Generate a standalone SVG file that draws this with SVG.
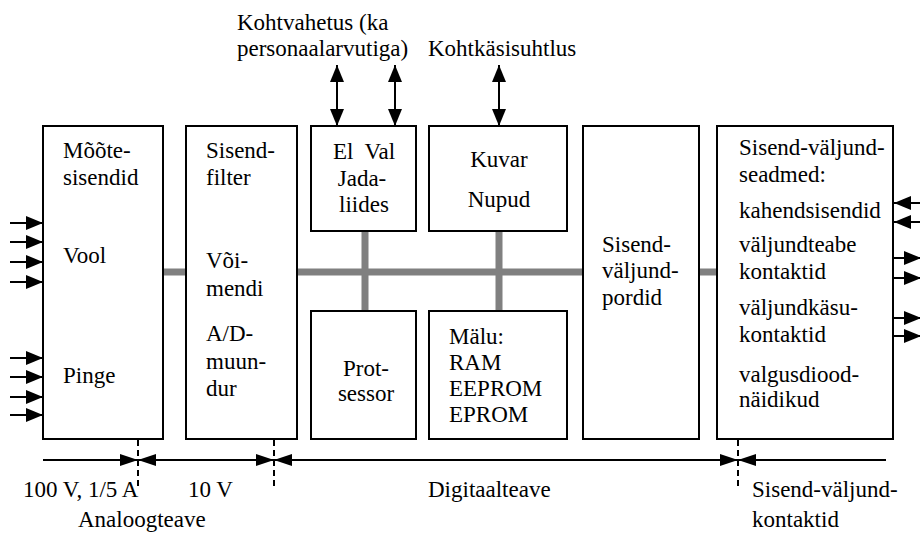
<svg xmlns="http://www.w3.org/2000/svg" width="920" height="534" viewBox="0 0 920 534">
<defs>
<marker id="ah" viewBox="0 0 17 14" refX="17" refY="7" markerWidth="17" markerHeight="14" markerUnits="userSpaceOnUse" orient="auto-start-reverse">
<path d="M0,0 L17,7 L0,14 Z" fill="#000"/>
</marker>
<marker id="ahb" viewBox="0 0 18 12" refX="18" refY="6" markerWidth="18" markerHeight="12" markerUnits="userSpaceOnUse" orient="auto-start-reverse">
<path d="M0,0 L18,6 L0,12 Z" fill="#000"/>
</marker>
</defs>
<style>
text{font-family:"Liberation Serif",serif;font-size:23px;fill:#000}
.box{fill:#fff;stroke:#000;stroke-width:2}
.bus{stroke:#808080;stroke-width:7;fill:none}
.arr{stroke:#000;stroke-width:2;fill:none;marker-end:url(#ah)}
.dbl{stroke:#000;stroke-width:2;fill:none;marker-start:url(#ah);marker-end:url(#ah)}
.dim{stroke:#000;stroke-width:2;fill:none;marker-end:url(#ahb)}
.line{stroke:#000;stroke-width:2;fill:none}
.dash{stroke:#000;stroke-width:2;stroke-dasharray:6,4;fill:none}
.c{text-anchor:middle}
</style>
<rect width="920" height="534" fill="#fff"/>
<g id="connectors">
<path class="bus" d="M163,272 H186 M297,272 H583 M699,272 H717 M365,231 V311 M499,231 V311"/>
<line class="arr" x1="10" y1="223" x2="43" y2="223"/>
<line class="arr" x1="10" y1="242" x2="43" y2="242"/>
<line class="arr" x1="10" y1="262" x2="43" y2="262"/>
<line class="arr" x1="10" y1="282" x2="43" y2="282"/>
<line class="arr" x1="10" y1="358" x2="43" y2="358"/>
<line class="arr" x1="10" y1="377" x2="43" y2="377"/>
<line class="arr" x1="10" y1="397" x2="43" y2="397"/>
<line class="arr" x1="10" y1="415" x2="43" y2="415"/>
<line class="arr" x1="920" y1="203" x2="894" y2="203"/>
<line class="arr" x1="920" y1="222" x2="894" y2="222"/>
<line class="arr" x1="893" y1="258" x2="921" y2="258"/>
<line class="arr" x1="893" y1="278" x2="921" y2="278"/>
<line class="arr" x1="893" y1="318" x2="921" y2="318"/>
<line class="arr" x1="893" y1="336" x2="921" y2="336"/>
<line class="dbl" x1="337" y1="65" x2="337" y2="126"/>
<line class="dbl" x1="395" y1="65" x2="395" y2="126"/>
<line class="dbl" x1="499" y1="65" x2="499" y2="126"/>
<line class="line" x1="43" y1="460" x2="886" y2="460"/>
<line class="dim" x1="100" y1="460" x2="138" y2="460"/>
<line class="dim" x1="176" y1="460" x2="138" y2="460"/>
<line class="dim" x1="236" y1="460" x2="274" y2="460"/>
<line class="dim" x1="312" y1="460" x2="274" y2="460"/>
<line class="dim" x1="700" y1="460" x2="738" y2="460"/>
<line class="dim" x1="776" y1="460" x2="738" y2="460"/>
<path class="dash" d="M138,440 V486 M274,440 V486 M738,440 V486"/>
</g>
<g id="n-moote">
<rect class="box" x="43" y="126" width="120" height="313"/>
<text x="63" y="158">Mõõte-</text>
<text x="63" y="185">sisendid</text>
<text x="63" y="263">Vool</text>
<text x="63" y="383">Pinge</text>
</g>
<g id="n-filter">
<rect class="box" x="186" y="126" width="111" height="313"/>
<text x="206" y="158">Sisend-</text>
<text x="206" y="185">filter</text>
<text x="206" y="268">Või-</text>
<text x="206" y="296">mendi</text>
<text x="206" y="341">A/D-</text>
<text x="206" y="369">muun-</text>
<text x="206" y="396">dur</text>
</g>
<g id="n-jada">
<rect class="box" x="311" y="126" width="105" height="105"/>
<text class="c" x="364" y="159" xml:space="preserve">El  Val</text>
<text class="c" x="362" y="186">Jada-</text>
<text class="c" x="364" y="212">liides</text>
</g>
<g id="n-kuvar">
<rect class="box" x="429" y="126" width="138" height="105"/>
<text class="c" x="499" y="167">Kuvar</text>
<text class="c" x="499" y="207">Nupud</text>
</g>
<g id="n-protsessor">
<rect class="box" x="311" y="311" width="105" height="128"/>
<text class="c" x="366" y="376">Prot-</text>
<text class="c" x="366" y="401">sessor</text>
</g>
<g id="n-malu">
<rect class="box" x="429" y="311" width="138" height="128"/>
<text x="449" y="344">Mälu:</text>
<text x="449" y="370">RAM</text>
<text x="449" y="396">EEPROM</text>
<text x="449" y="422">EPROM</text>
</g>
<g id="n-pordid">
<rect class="box" x="583" y="126" width="116" height="313"/>
<text x="602" y="252">Sisend-</text>
<text x="602" y="278">väljund-</text>
<text x="602" y="305">pordid</text>
</g>
<g id="n-seadmed">
<rect class="box" x="717" y="126" width="176" height="313"/>
<text x="739" y="155">Sisend-väljund-</text>
<text x="739" y="182">seadmed:</text>
<text x="739" y="218">kahendsisendid</text>
<text x="739" y="252">väljundteabe</text>
<text x="739" y="279">kontaktid</text>
<text x="739" y="315">väljundkäsu-</text>
<text x="739" y="342">kontaktid</text>
<text x="739" y="382">valgusdiood-</text>
<text x="739" y="407">näidikud</text>
</g>
<g id="labels">
<text x="237" y="30">Kohtvahetus (ka</text>
<text x="237" y="56">personaalarvutiga)</text>
<text x="428" y="56">Kohtkäsisuhtlus</text>
<text x="23" y="497">100 V, 1/5 A</text>
<text x="188" y="497">10 V</text>
<text x="78" y="527">Analoogteave</text>
<text x="428" y="497">Digitaalteave</text>
<text x="752" y="497">Sisend-väljund-</text>
<text x="752" y="527">kontaktid</text>
</g>
</svg>
